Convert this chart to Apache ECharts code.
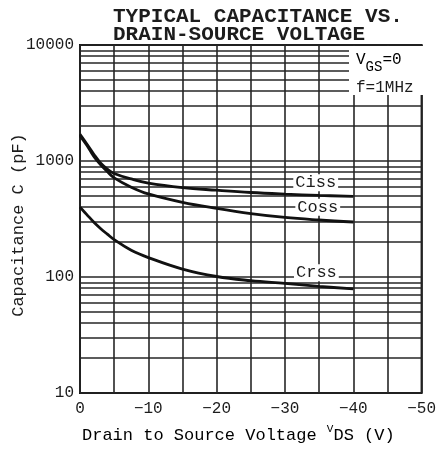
<!DOCTYPE html>
<html>
<head>
<meta charset="utf-8">
<script src="https://cdn.jsdelivr.net/npm/echarts@6/dist/echarts.min.js"></script>
<style>
html, body { margin: 0; padding: 0; background: #fff; }
#chart { width: 439px; height: 449px; }
</style>
</head>
<body>
<div id="chart"></div>
<script>
// data
const vds = [0, -1, -2, -3, -4, -5, -7.5, -10, -15, -20, -25, -30, -35, -40]
const ciss = [1700, 1400, 1150, 960, 850, 780, 700, 645, 590, 560, 535, 518, 505, 495]
const coss = [1650, 1370, 1100, 930, 810, 715, 595, 520, 440, 390, 352, 326, 310, 298]
const crss = [400, 345, 298, 262, 234, 210, 170, 147, 117, 101, 93, 88, 83, 79]

const xTicks = [0, -10, -20, -30, -40, -50]
const xTickLabels = ['0', '\u221210', '\u221220', '\u221230', '\u221240', '\u221250']
const yTicks = [10, 100, 1000, 10000]
const yTickLabels = ['10', '100', '1000', '10000']

// where the curve names sit (data coords)
const curveLabels = [
  { name: 'Ciss', at: [-34.5, 650] },
  { name: 'Coss', at: [-34.8, 400] },
  { name: 'Crss', at: [-34.6, 109] }
]

const mono = 'Liberation Mono'
const ink = '#1c1c1c'
const gridInk = '#262626'

// minor log grid lines 20..90, 200..900, 2000..9000
const minorGrid = []
yTicks.slice(0, -1).forEach((d) => {
  for (let m = 2; m <= 9; m++) minorGrid.push(d * m)
})

const pair = (arr) => vds.map((v, i) => [v, arr[i]])

const curve = (name, arr, idx) => ({
  name: name,
  type: 'line',
  z: 5,
  data: pair(arr),
  smooth: 0.4,
  showSymbol: false,
  symbol: 'none',
  lineStyle: { color: '#111', width: 2.8 },
  markPoint: {
    silent: true,
    symbol: 'rect',
    symbolSize: 1,
    itemStyle: { color: 'rgba(0,0,0,0)' },
    label: {
      show: true,
      position: 'inside',
      formatter: curveLabels[idx].name,
      fontFamily: mono,
      fontSize: 17,
      color: ink,
      backgroundColor: '#fff',
      padding: [0, 2]
    },
    data: [{ coord: curveLabels[idx].at }]
  }
})

const myChart = echarts.init(document.getElementById('chart'))

const option = {
  animation: false,
  title: {
    text: 'TYPICAL CAPACITANCE VS.\nDRAIN-SOURCE VOLTAGE',
    left: 108,
    top: 3,
    textStyle: {
      fontFamily: mono,
      fontSize: 21,
      fontWeight: 'bold',
      color: ink,
      lineHeight: 18
    }
  },
  grid: {
    left: 80,
    right: 12,
    top: 45,
    bottom: 56,
    show: true,
    borderColor: '#111',
    borderWidth: 2
  },
  xAxis: {
    type: 'value',
    min: -50,
    max: 0,
    interval: 5,
    inverse: true,
    axisLine: { show: false },
    axisTick: { show: false },
    splitLine: { show: true, lineStyle: { color: gridInk, width: 1.6 } },
    axisLabel: {
      margin: 8,
      fontFamily: mono,
      fontSize: 16,
      color: ink,
      formatter: (v) => {
        const i = xTicks.indexOf(v)
        return i >= 0 ? xTickLabels[i] : ''
      }
    }
  },
  yAxis: {
    type: 'log',
    logBase: 10,
    min: 10,
    max: 10000,
    axisLine: { show: false },
    axisTick: { show: false },
    splitLine: { show: true, lineStyle: { color: gridInk, width: 1.6 } },
    axisLabel: {
      margin: 6,
      fontFamily: mono,
      fontSize: 16,
      color: ink,
      formatter: (v) => {
        const i = yTicks.indexOf(v)
        return i >= 0 ? yTickLabels[i] : ''
      }
    }
  },
  series: [
    {
      name: 'grid',
      type: 'line',
      z: 1,
      data: [],
      markLine: {
        silent: true,
        symbol: ['none', 'none'],
        label: { show: false },
        lineStyle: { color: gridInk, width: 1.6, type: 'solid' },
        data: minorGrid.map((v) => ({ yAxis: v }))
      }
    },
    curve('Ciss', ciss, 0),
    curve('Coss', coss, 1),
    curve('Crss', crss, 2)
  ],
  graphic: [
    {
      type: 'rect',
      z: 100,
      shape: { x: 349, y: 46, width: 76, height: 49 },
      style: { fill: '#fff' }
    },
    {
      type: 'text',
      z: 101,
      x: 356,
      y: 52,
      style: {
        text: '{v|V}{s|GS}{v|=0}',
        rich: {
          v: { fontFamily: mono, fontSize: 16, color: ink, lineHeight: 22, verticalAlign: 'top' },
          s: { fontFamily: mono, fontSize: 14, color: ink, lineHeight: 22, verticalAlign: 'bottom', padding: [8, 0, 0, 0] }
        }
      }
    },
    {
      type: 'text',
      z: 101,
      x: 356,
      y: 80,
      style: { text: 'f=1MHz', fontFamily: mono, fontSize: 16, fill: ink }
    },
    {
      type: 'text',
      x: 18,
      y: 225,
      rotation: Math.PI / 2,
      style: {
        text: 'Capacitance C (pF)',
        fontFamily: mono,
        fontSize: 17,
        fill: ink,
        align: 'center',
        verticalAlign: 'middle'
      }
    },
    {
      type: 'text',
      x: 82,
      y: 424,
      style: {
        text: '{a|Drain to Source Voltage }{v|V}{a|DS (V)}',
        rich: {
          a: { fontFamily: mono, fontSize: 17, color: ink, lineHeight: 20, verticalAlign: 'bottom' },
          v: { fontFamily: mono, fontSize: 11, color: ink, lineHeight: 20, verticalAlign: 'top' }
        }
      }
    }
  ]
}

myChart.setOption(option)

window.addEventListener('resize', () => {
  myChart.resize()
})
</script>
</body>
</html>
